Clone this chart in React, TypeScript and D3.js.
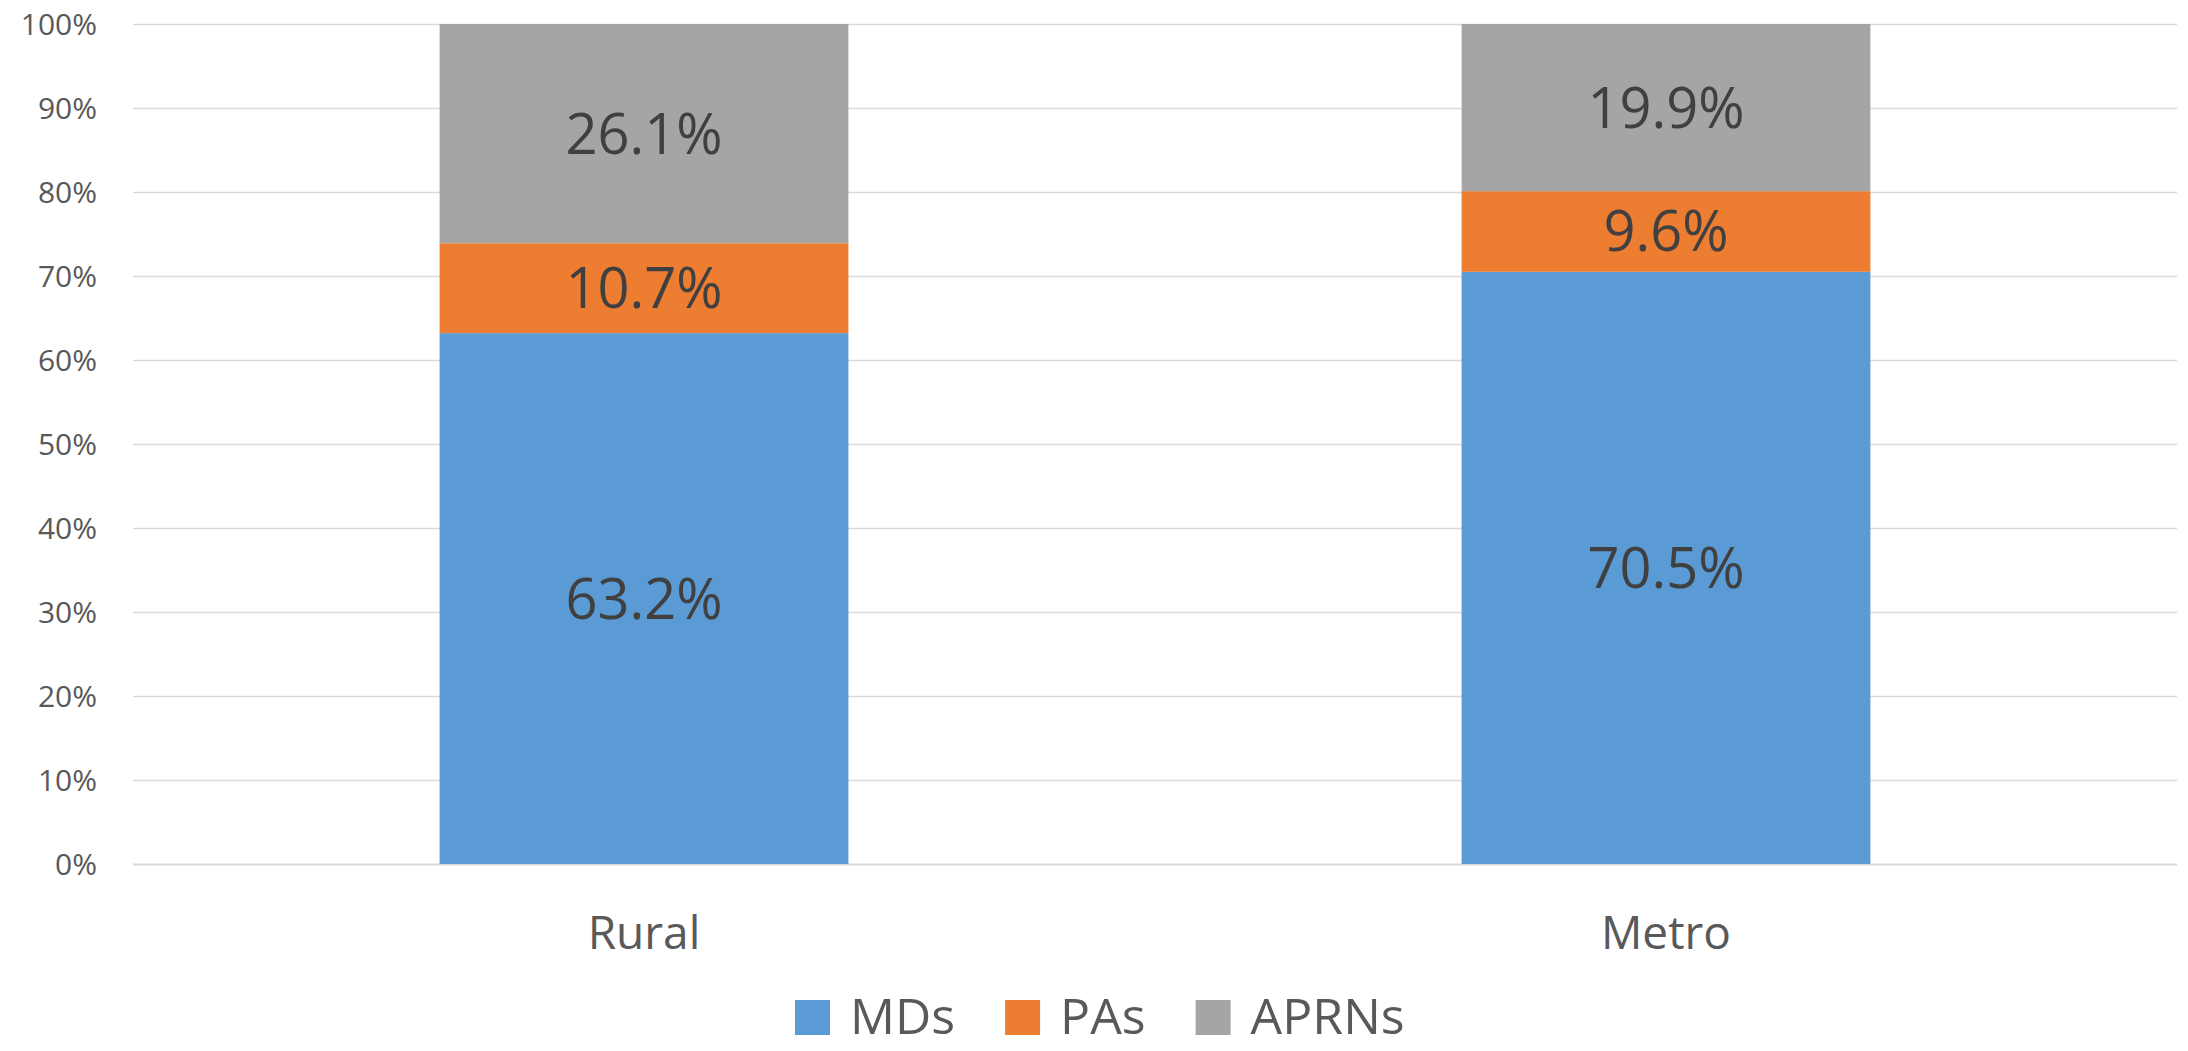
import React, { useEffect, useRef } from 'react';
import * as d3 from 'd3';

const categories = ['Rural', 'Metro'];
const seriesNames = ['MDs', 'PAs', 'APRNs'];
const mdValues = [63.2, 70.5];
const paValues = [10.7, 9.6];
const aprnValues = [26.1, 19.9];
const yTicks = [0, 10, 20, 30, 40, 50, 60, 70, 80, 90, 100];
const colors = ['#5B9BD5', '#ED7D31', '#A5A5A5'];

const W = 2188;
const H = 1051;
const FONT = '"Open Sans", sans-serif';

export default function App() {
  const ref = useRef<SVGSVGElement>(null);

  useEffect(() => {
    const svg = d3.select(ref.current);
    svg.selectAll('*').remove();

    // plot area
    const left = 133;
    const right = 2177;
    const top = 24;
    const bottom = 864;

    const rows = categories.map((c, i) => ({
      category: c,
      MDs: mdValues[i],
      PAs: paValues[i],
      APRNs: aprnValues[i]
    }));

    const x = d3
      .scaleBand()
      .domain(categories)
      .range([left, right])
      .paddingInner(0.6)
      .paddingOuter(0.3);

    const y = d3.scaleLinear().domain([0, 100]).range([bottom, top]);

    // gridlines
    svg
      .append('g')
      .selectAll('line')
      .data(yTicks)
      .join('line')
      .attr('x1', left)
      .attr('x2', right)
      .attr('y1', d => Math.round(y(d)) + 0.5)
      .attr('y2', d => Math.round(y(d)) + 0.5)
      .attr('stroke', '#D9D9D9')
      .attr('stroke-width', d => (d === 0 ? 2 : 1.5));

    // y tick labels
    svg
      .append('g')
      .selectAll('text')
      .data(yTicks)
      .join('text')
      .attr('x', 97)
      .attr('y', d => y(d) + 10.8)
      .attr('text-anchor', 'end')
      .attr('font-family', FONT)
      .attr('font-size', 30)
      .attr('fill', '#595959')
      .text(d => d + '%');

    // stacked bars
    const stack = d3.stack<any>().keys(seriesNames);
    const layers = stack(rows);

    const layerG = svg
      .append('g')
      .selectAll('g')
      .data(layers)
      .join('g')
      .attr('fill', (_d, i) => colors[i]);

    layerG
      .selectAll('rect')
      .data(d => d)
      .join('rect')
      .attr('x', d => x(d.data.category)!)
      .attr('width', x.bandwidth())
      .attr('y', d => y(d[1]))
      .attr('height', d => y(d[0]) - y(d[1]));

    // data labels
    layerG
      .selectAll('text')
      .data(d => d)
      .join('text')
      .attr('x', d => x(d.data.category)! + x.bandwidth() / 2)
      .attr('y', d => (y(d[0]) + y(d[1])) / 2 + 20)
      .attr('text-anchor', 'middle')
      .attr('font-family', FONT)
      .attr('font-size', 56)
      .attr('fill', '#404040')
      .text(d => (d[1] - d[0]).toFixed(1) + '%');

    // category labels
    svg
      .append('g')
      .selectAll('text')
      .data(categories)
      .join('text')
      .attr('x', d => x(d)! + x.bandwidth() / 2)
      .attr('y', 949)
      .attr('text-anchor', 'middle')
      .attr('font-family', FONT)
      .attr('font-size', 46)
      .attr('fill', '#595959')
      .text(d => d);

    // legend
    const legend = svg.append('g');
    let lx = 795;
    seriesNames.forEach((name, i) => {
      legend
        .append('rect')
        .attr('x', lx)
        .attr('y', 1000)
        .attr('width', 35)
        .attr('height', 35)
        .attr('fill', colors[i]);
      const t = legend
        .append('text')
        .attr('x', lx + 55)
        .attr('y', 1034)
        .attr('font-family', FONT)
        .attr('font-size', 50)
        .attr('fill', '#595959')
        .text(name);
      const tw = (t.node() as SVGTextElement).getComputedTextLength();
      lx += 55 + tw + 50;
    });
  }, []);

  return (
    <svg
      ref={ref}
      width={W}
      height={H}
      style={{ position: 'absolute', left: 0, top: 0, background: '#fff' }}
    />
  );
}
